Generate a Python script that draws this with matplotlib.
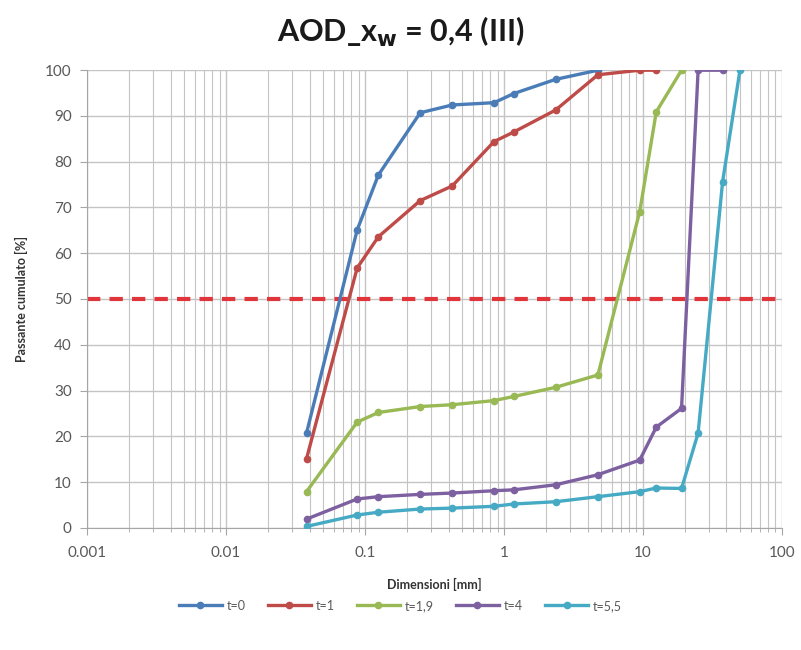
import matplotlib
matplotlib.use("Agg")
import matplotlib.pyplot as plt
from matplotlib.ticker import LogLocator, FixedLocator, FixedFormatter, NullFormatter

plt.rcParams['font.family'] = ['Lato', 'DejaVu Sans']

# Sieve openings [mm]
sizes = [0.038, 0.088, 0.125, 0.25, 0.425, 0.85, 1.18, 2.36, 4.75,
         9.5, 12.5, 19, 25, 37.5, 50]

# Cumulative passing [%] for each time step
t0 = [20.7, 65.1, 77.1, 90.7, 92.4, 92.9, 94.9, 98.0, 100.0]
t1 = [15.1, 56.8, 63.6, 71.5, 74.7, 84.4, 86.5, 91.3, 99.0, 100.0, 100.0]
t19 = [7.9, 23.1, 25.2, 26.5, 26.9, 27.8, 28.7, 30.7, 33.4, 69.1, 90.9, 100.0]
t4 = [1.9, 6.3, 6.8, 7.3, 7.6, 8.1, 8.3, 9.4, 11.6, 14.8, 22.0, 26.1,
      100.0, 100.0]
t55 = [0.3, 2.8, 3.4, 4.1, 4.3, 4.7, 5.2, 5.7, 6.8, 7.9, 8.7, 8.6,
       20.7, 75.6, 100.0]

series_labels = ["t=0", "t=1", "t=1,9", "t=4", "t=5,5"]
series_values = [t0, t1, t19, t4, t55]
colors = ["#4A7CB8", "#BE4B48", "#98B954", "#7D60A0", "#46AAC5"]

x_ticks = [0.001, 0.01, 0.1, 1, 10, 100]
x_ticklabels = ["0.001", "0.01", "0.1", "1", "10", "100"]
y_ticks = list(range(0, 101, 10))
threshold = 50

fig = plt.figure(figsize=(8.01, 6.50), dpi=100)
ax = fig.add_axes([0.1086, 0.188, 0.8674, 0.704])

grid_c = "#C4C4C4"
text_c = "#595959"

for lab, vals, c in zip(series_labels, series_values, colors):
    ax.plot(sizes[:len(vals)], vals, color=c, lw=2.4, marker="o", ms=4.5,
            label=lab, zorder=3, solid_joinstyle="round")

ax.plot([x_ticks[0], x_ticks[-1]], [threshold, threshold], color="#E0353B",
        lw=3, ls=(0, (3.2, 2.2)), zorder=2.5)

ax.set_xscale("log")
ax.set_xlim(x_ticks[0], x_ticks[-1])
ax.set_ylim(0, 100)
ax.xaxis.set_major_locator(FixedLocator(x_ticks))
ax.xaxis.set_major_formatter(FixedFormatter(x_ticklabels))
ax.xaxis.set_minor_locator(LogLocator(base=10, subs=range(2, 10)))
ax.xaxis.set_minor_formatter(NullFormatter())
ax.set_yticks(y_ticks)

ax.grid(True, which="major", color=grid_c, lw=1.0, zorder=0)
ax.grid(True, which="minor", axis="x", color=grid_c, lw=0.8, zorder=0)

for s in ["top", "right"]:
    ax.spines[s].set_visible(False)
for s in ["left", "bottom"]:
    ax.spines[s].set_color("#A6A6A6")
ax.tick_params(axis="both", which="major", colors="#A6A6A6", labelcolor=text_c,
               labelsize=11, length=5)
ax.tick_params(axis="y", which="major", pad=6)
ax.tick_params(axis="x", which="major", pad=8)
ax.tick_params(axis="x", which="minor", colors="#A6A6A6", length=3)

fig.text(0.5, 0.951, r"AOD_x$_\mathbf{w}$ = 0,4 (III)", fontsize=22,
         fontweight="bold", color="#1A1A1A", ha="center", va="center")
ax.set_xlabel("Dimensioni [mm]", fontsize=9, fontweight="bold", color="#333333",
              labelpad=13)
ax.set_ylabel("Passante cumulato [%]", fontsize=9, fontweight="bold",
              color="#333333", labelpad=12)

leg = fig.legend(loc="center", bbox_to_anchor=(0.5, 0.068), ncol=5,
                 frameon=False, fontsize=9, handlelength=3.4,
                 columnspacing=1.8, handletextpad=0.4)
for t in leg.get_texts():
    t.set_color(text_c)

fig.savefig("out.png", dpi=100, facecolor="white")
